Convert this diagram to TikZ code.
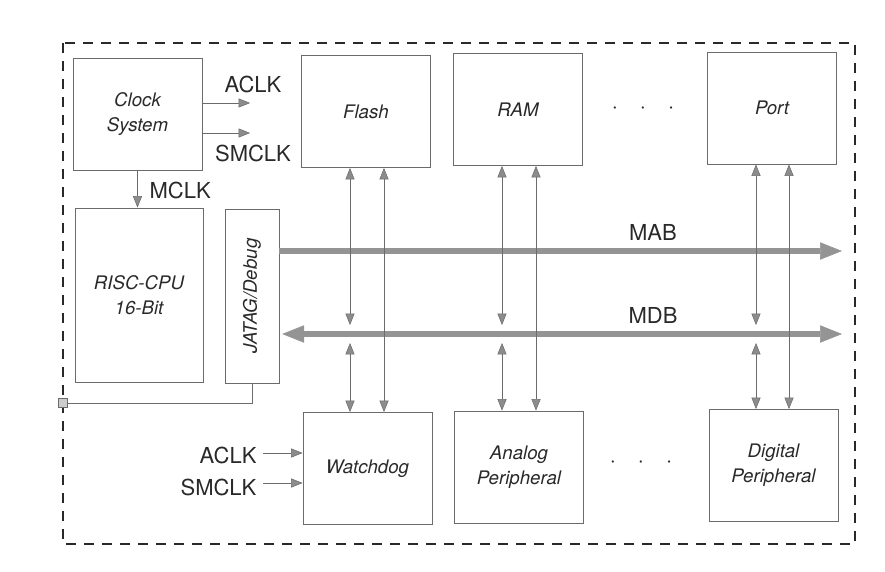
\documentclass[tikz,border=0pt]{standalone}
\usepackage{fontspec}
\setmainfont{TeX Gyre Heros}
\usetikzlibrary{calc,arrows.meta,positioning}
\definecolor{inkgray}{gray}{0.16}
\definecolor{linegray}{gray}{0.42}
\definecolor{busgray}{gray}{0.58}
\definecolor{tipgray}{gray}{0.55}

\tikzset{
	block/.style={draw=linegray, line width=0.7pt, text=inkgray, align=center,
		font=\itshape\fontsize{14}{19}\selectfont,
		minimum width=96.75pt, minimum height=84pt, inner sep=0pt},
	blocktext/.style={text=inkgray, font=\itshape\fontsize{14}{19}\selectfont},
	sig/.style={draw=linegray, line width=0.7pt,
		>={Triangle[length=8.5pt,width=6.75pt,line width=0.4pt,fill=tipgray]}, ->},
	bus/.style={draw=busgray, line width=3.8pt,
		>={Triangle[length=16.5pt,width=13pt,line width=0.5pt,fill=busgray]}, ->},
	lbl/.style={text=inkgray, font=\fontsize{16.5}{19}\selectfont, inner sep=1pt},
	frame/.style={draw=inkgray, line width=1pt, dash pattern=on 7.5pt off 6pt}
}

\begin{document}
\begin{tikzpicture}[x=0.75pt,y=-0.75pt]

	\useasboundingbox (0,0) rectangle (885,571);

	%% dashed chip boundary
	\draw[frame] (63,43) rectangle (855,544);

	%% top row of blocks
	\node[block] (B1) at (137.5,114) {Clock\\System};
	\node[block] (B2) at (366,111.5) {Flash};
	\node[block] (B3) at (518,109.5) {RAM};
	\node[block] (B4) at (772,108) {Port};
	\node[lbl] (D1) at (643,110) {·\quad·\quad·};

	%% CPU and debug interface
	\node[block, minimum width=96pt, minimum height=130.5pt] (B5) at (139,295) {RISC-CPU\\16-Bit};
	\node[block, minimum width=40.5pt, minimum height=130.5pt] (B6) at (252,296) {};
	\node[blocktext, rotate=90] (T6) at (B6) {JATAG/Debug};

	%% bottom row of blocks
	\node[block] (B7) at (367.5,468.5) {Watchdog};
	\node[block] (B8) at (519,467) {Analog\\Peripheral};
	\node[block] (B9) at (773.5,465.5) {Digital\\Peripheral};
	\node[lbl] (D2) at (641,464) {·\quad·\quad·};

	%% clock signals
	\coordinate (K1) at (250,103);
	\coordinate (K2) at (250,133);
	\draw[sig] (B1.east |- K1) -- (K1);
	\draw[sig] (B1.east |- K2) -- (K2);
	\node[lbl] (L1) at (253,84) {ACLK};
	\node[lbl] (L2) at (253,153) {SMCLK};
	\draw[sig] (B1.south) -- (B1.south |- B5.north);
	\node[lbl, anchor=west] (L3) at (148,190) {MCLK};

	\coordinate (W1) at (263,453);
	\coordinate (W2) at (263,483);
	\draw[sig] (W1) -- (W1 -| B7.west);
	\draw[sig] (W2) -- (W2 -| B7.west);
	\node[lbl, anchor=east] (L4) at (258,455) {ACLK};
	\node[lbl, anchor=east] (L5) at (258,487) {SMCLK};

	%% buses
	\coordinate (M1) at (842,251); % MAB end
	\coordinate (M2) at (842,334); % MDB end
	\draw[bus] (B6.east |- M1) -- (M1);
	\draw[bus,<->] ([xshift=2pt]B6.east |- M2) -- (M2);
	\node[lbl] (L6) at (653,232) {MAB};
	\node[lbl] (L7) at (653,315) {MDB};

	%% data (F1,R1,P1) and address (F2,R2,P2) lines
	\coordinate (F1) at ($(B2.south)+(-16,0)$);
	\coordinate (F2) at ($(B2.south)+(18,0)$);
	\coordinate (R1) at ($(B3.south)+(-16,0)$);
	\coordinate (R2) at ($(B3.south)+(18,0)$);
	\coordinate (P1) at ($(B4.south)+(-16,0)$);
	\coordinate (P2) at ($(B4.south)+(17,0)$);

	\draw[sig,<->] (F1) -- ([yshift=6.75pt]F1 |- M2);
	\draw[sig,<->] ([yshift=-6.75pt]F1 |- M2) -- (F1 |- B7.north);
	\draw[sig,<->] (F2) -- (F2 |- B7.north);

	\draw[sig,<->] (R1) -- ([yshift=6.75pt]R1 |- M2);
	\draw[sig,<->] ([yshift=-6.75pt]R1 |- M2) -- (R1 |- B8.north);
	\draw[sig,<->] (R2) -- (R2 |- B8.north);

	\draw[sig,<->] (P1) -- ([yshift=6.75pt]P1 |- M2);
	\draw[sig,<->] ([yshift=-6.75pt]P1 |- M2) -- (P1 |- B9.north);
	\draw[sig,<->] (P2) -- (P2 |- B9.north);

	%% debug link to the pin
	\node[draw=linegray, fill=gray!40, minimum size=7pt, inner sep=0pt] (Q1) at (63,403) {};
	\draw[draw=linegray, line width=0.6pt] (B6.south) |- (Q1.east);

\end{tikzpicture}
\end{document}
